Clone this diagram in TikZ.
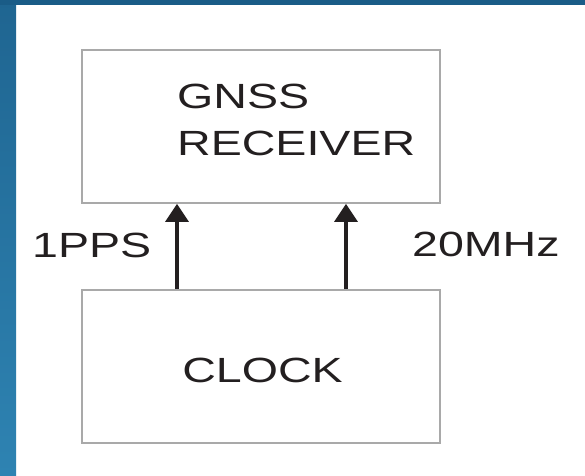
\documentclass[tikz,border=0pt]{standalone}
\usepackage{fontspec}
\setmainfont{Liberation Sans}
\usetikzlibrary{arrows.meta,calc}
\definecolor{frametop}{HTML}{1A5C87}
\definecolor{leftA}{HTML}{1F6591}
\definecolor{leftB}{HTML}{2E83B2}
\definecolor{ink}{HTML}{231F20}
\definecolor{boxline}{HTML}{A9A9A9}
\newcommand{\wide}[1]{\scalebox{1.33}[1]{#1}}
\begin{document}
\begin{tikzpicture}[x=1pt,y=-1pt,
  box/.style={draw=boxline,line width=1.6pt,fill=white,inner sep=0pt},
  lbl/.style={text=ink,inner sep=0pt,font=\fontsize{35}{42}\selectfont},
  arr/.style={draw=ink,line width=3.2pt,-{Triangle[width=23pt,length=18pt]}}]
\useasboundingbox (0,0) rectangle (585,475);
\fill[white] (0,0) rectangle (585,475);
\fill[frametop] (0,0) rectangle (585,5);
\shade[top color=leftA,bottom color=leftB] (0,0) rectangle (16,475);
\fill[frametop] (0,0) rectangle (16,5);
% boxes
\node[box,minimum width=358pt,minimum height=153pt] (rx) at (261,126.5) {};
\node[box,minimum width=358pt,minimum height=153pt] (clk) at (261,366.5) {};
% texts
\node[lbl,anchor=base west] (t1) at (177,108) {\wide{GNSS}};
\node[lbl,anchor=base west] (t2) at (177,155) {\wide{RECEIVER}};
\node[lbl,anchor=base] (t3) at (262.5,382) {\wide{CLOCK}};
\node[lbl,anchor=base west] (t4) at (32,257) {\wide{1PPS}};
\node[lbl,anchor=base west] (t5) at (412,256) {\wide{20MHz}};
% arrows
\coordinate (p1) at (177,0);
\coordinate (p2) at (346,0);
\draw[arr] (p1 |- clk.north) -- (p1 |- rx.south);
\draw[arr] (p2 |- clk.north) -- (p2 |- rx.south);
\end{tikzpicture}
\end{document}
